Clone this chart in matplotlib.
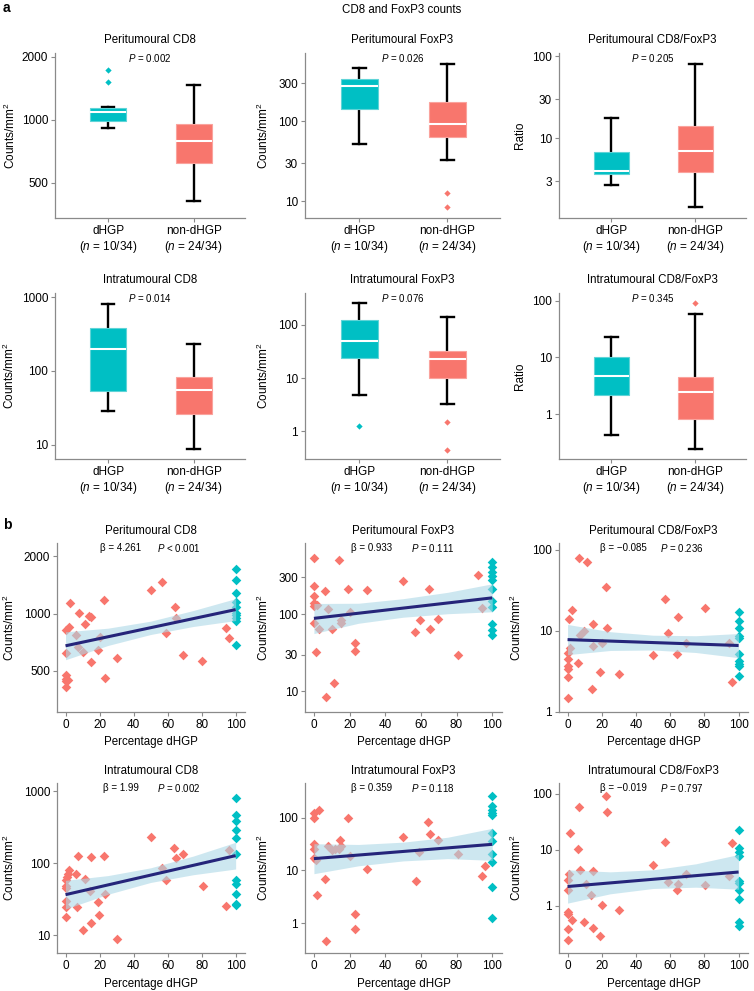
import numpy as np
import matplotlib
matplotlib.use("Agg")
import matplotlib.pyplot as plt
from matplotlib.ticker import FixedLocator, FixedFormatter, NullLocator

plt.rcParams["font.family"] = ["Liberation Sans", "DejaVu Sans"]
plt.rcParams["mathtext.fontset"] = "custom"
plt.rcParams["mathtext.rm"] = "Liberation Sans"
plt.rcParams["mathtext.it"] = "Liberation Sans:italic"
plt.rcParams["mathtext.bf"] = "Liberation Sans:bold"

# ---------------- data: panel a (box statistics: low whisker, Q1, median, Q3, high whisker)
groups = ["dHGP", "non-dHGP"]
group_n = ["10/34", "24/34"]

peri_cd8_dhgp_box = [919, 985, 1096, 1141, 1153]
peri_cd8_non_box = [409, 622, 794, 957, 1474]
peri_cd8_dhgp_out = [1738, 1517]
peri_cd8_non_out = []

peri_foxp3_dhgp_box = [52, 145, 277, 338, 464]
peri_foxp3_non_box = [33, 64, 94, 173, 530]
peri_foxp3_dhgp_out = []
peri_foxp3_non_out = [12.7, 8.4]

peri_ratio_dhgp_box = [2.71, 3.72, 4.01, 6.89, 17.5]
peri_ratio_non_box = [1.45, 3.9, 7.02, 14.25, 80.7]
peri_ratio_dhgp_out = []
peri_ratio_non_out = []

intra_cd8_dhgp_box = [28.4, 54, 198, 378, 804]
intra_cd8_non_box = [8.8, 25.9, 54.7, 82, 232]
intra_cd8_dhgp_out = []
intra_cd8_non_out = []

intra_foxp3_dhgp_box = [4.78, 23.8, 50.6, 124, 260]
intra_foxp3_non_box = [3.23, 9.86, 23.2, 32.8, 143.6]
intra_foxp3_dhgp_out = [1.24]
intra_foxp3_non_out = [1.46, 0.445]

intra_ratio_dhgp_box = [0.432, 2.13, 4.75, 10.3, 23.2]
intra_ratio_non_box = [0.238, 0.827, 2.48, 4.55, 59]
intra_ratio_dhgp_out = []
intra_ratio_non_out = [89.7]

p_values_a = ["0.002", "0.026", "0.205", "0.014", "0.076", "0.345"]

# ---------------- data: panel b (scatter; non-dHGP x = percentage dHGP, dHGP at 100 %)
peri_cd8_non_x = [2.5, 7.8, 14, 15, 11.3, 0, 2, 6.4, 7.2, 10.3, 0.4, 19.3, 20, 15, 30, 22.6, 23.4,
                  0, 0.5, 1.5, 0, 0, 50, 57, 64.3, 65, 59, 69.2, 80.3, 94.5, 96]
peri_cd8_non_y = [1142, 1008, 975, 955, 879, 815, 850, 770, 669, 630, 620, 640, 755, 558, 586, 1184, 460,
                  475, 455, 450, 440, 410, 1335, 1465, 1083, 949, 786, 603, 563, 838, 746]
peri_cd8_dhgp_y = [1720, 1507, 1288, 1151, 1084, 1012, 980, 953, 915, 683]

peri_foxp3_non_x = [0, 14.2, 0, 6.4, 0, 19.2, 30, 50.2, 64.3, 92, 0, 2, 0, 7.7, 20, 0, 2.8, 10, 15, 15,
                    1, 23.2, 22.8, 11.5, 7, 56.8, 59.4, 65.3, 69.6, 80.8, 94.2]
peri_foxp3_non_y = [531, 506, 229, 198, 170, 212, 206, 266, 212, 320, 137, 132, 127, 115, 107, 77, 63.5,
                    63.5, 85, 77, 32.7, 42.8, 33.7, 12.7, 8.5, 59, 85, 65, 86, 29.6, 119.5]
peri_foxp3_dhgp_y = [472, 407, 351, 308, 274, 210, 148, 124, 75, 63, 53]

peri_ratio_non_x = [6.6, 11.2, 22.5, 2.5, 0.8, 15.1, 23, 9.8, 7.4, 1.7, 15, 20, 0, 0, 6.2, 0, 0, 0,
                    18.7, 29.9, 14.2, 0, 56.7, 80.5, 64.8, 59, 49.9, 64.1, 69.2, 94.1, 96]
peri_ratio_non_y = [79.6, 69.6, 35.1, 18.2, 14.2, 12.3, 11, 10, 8.8, 6.2, 6.6, 7.1, 5.3, 4.5, 4.0, 3.7,
                    3.4, 2.7, 3.07, 2.9, 1.93, 1.49, 24.9, 19.3, 14.9, 9.3, 5.1, 5.14, 7.0, 7.1, 2.33]
peri_ratio_dhgp_y = [17.2, 13.2, 10.9, 8.67, 8.27, 5.14, 4.24, 3.94, 3.65, 2.77]

intra_cd8_non_x = [50, 63.9, 65.2, 69.3, 7.6, 14.8, 22.5, 96.3, 56.8, 59.2, 80.7, 2.3, 1.6, 6.4, 0.8, 0,
                   0, 0, 11.3, 14.5, 23.4, 0, 0, 6.6, 18.9, 19.7, 0, 14.8, 10, 30, 94.3]
intra_cd8_non_y = [232, 161, 119, 135, 125, 121, 128, 155, 86, 59, 49, 82, 72, 70, 64, 58, 49, 46, 61,
                   41, 37, 30, 25, 25, 29, 19, 18, 15, 12, 8.8, 25.5]
intra_cd8_dhgp_y = [808, 474, 383, 293, 222, 136, 58, 52, 38, 27, 26]

intra_foxp3_non_x = [2.8, 0, 0, 19.2, 64.2, 65.3, 50.2, 69.6, 14.9, 0, 0, 7.7, 10, 11.7, 14, 15.3, 0, 1,
                     20, 59.2, 80.8, 30, 6.4, 57, 1.9, 96, 94.2, 22.8, 23.2, 7]
intra_foxp3_non_y = [142, 123, 98.7, 98.7, 83, 49, 43, 37, 37, 31.6, 25.4, 28.6, 24, 25.4, 25.4, 28.6,
                     17, 16, 18.4, 22.6, 20.7, 10.7, 6.95, 6.4, 3.4, 11.9, 7.7, 1.48, 0.78, 0.46]
intra_foxp3_dhgp_y = [254, 169, 142, 123, 111, 51, 36, 20.4, 14.4, 4.9, 1.26]

intra_ratio_non_x = [22.3, 6.6, 23, 1.5, 56.7, 96, 6.2, 49.9, 7.4, 0.8, 15.1, 0, 11, 69.2, 59, 64.8,
                     64.1, 80.5, 94.1, 0, 14, 20, 29.9, 0, 0, 2.5, 9.8, 0, 15, 18.7, 0]
intra_ratio_non_y = [90, 58, 47, 20.4, 13.9, 13, 10.3, 5.4, 4.4, 3.7, 4.15, 2.9, 2.4, 3.66, 2.6, 2.4,
                     1.9, 2.36, 3.33, 1.87, 1.52, 1.03, 0.82, 0.78, 0.72, 0.56, 0.51, 0.38, 0.4, 0.29, 0.24]
intra_ratio_dhgp_y = [22.8, 10.6, 8.96, 7.8, 2.82, 2.53, 1.92, 1.31, 0.52, 0.435]

# regression lines (at 0 % and 100 %) and confidence band (at fit_x)
line_x = [0, 100]
fit_x = [0, 25, 50, 75, 100]
peri_cd8_line = [677, 1049]
peri_cd8_lo = [572, 680, 776, 855, 919]
peri_cd8_hi = [802, 838, 912, 1037, 1198]
peri_foxp3_line = [88, 162]
peri_foxp3_lo = [56, 76, 91, 101, 107]
peri_foxp3_hi = [137, 138, 158, 191, 246]
peri_ratio_line = [7.8, 6.6]
peri_ratio_lo = [5.09, 5.73, 5.81, 5.41, 4.67]
peri_ratio_hi = [12.0, 9.76, 8.84, 8.71, 9.27]
intra_cd8_line = [36.7, 128]
intra_cd8_lo = [23.2, 37.2, 54.2, 69.4, 83.4]
intra_cd8_hi = [58, 67.6, 86.6, 126, 196]
intra_foxp3_line = [16.7, 31.2]
intra_foxp3_lo = [8.64, 12.2, 15.1, 16.7, 15.5]
intra_foxp3_hi = [32, 31, 34.3, 42.5, 62.7]
intra_ratio_line = [2.2, 4.0]
intra_ratio_lo = [1.11, 1.63, 2.03, 2.14, 1.97]
intra_ratio_hi = [4.38, 4.03, 4.38, 5.61, 8.25]

betas_b = ["4.261", "0.933", "\u22120.085", "1.99", "0.359", "\u22120.019"]
p_values_b = ["< 0.001", "= 0.111", "= 0.236", "= 0.002", "= 0.118", "= 0.797"]

# ---------------- style
TEAL = "#00BFC4"
SALMON = "#F8766D"
TEAL_EDGE = "#5FD4D7"
SALMON_EDGE = "#FAA39D"
NAVY = "#25257A"
BAND = "#ADD8E6"
SPINE = "#8a8a8a"

W, H = 754, 991
fig = plt.figure(figsize=(W / 100, H / 100), dpi=100)


def add_ax(l, t, r, b):
    return fig.add_axes([l / W, 1 - b / H, (r - l) / W, (b - t) / H])


def style(ax, ticks, ylim, ylabel, label_off):
    for s in ["top", "right"]:
        ax.spines[s].set_visible(False)
    for s in ["left", "bottom"]:
        ax.spines[s].set_color(SPINE)
        ax.spines[s].set_linewidth(0.9)
    ax.set_yscale("log")
    ax.set_ylim(ylim)
    ax.yaxis.set_major_locator(FixedLocator(ticks))
    ax.yaxis.set_major_formatter(FixedFormatter([f"{t:g}" for t in ticks]))
    ax.yaxis.set_minor_locator(NullLocator())
    ax.tick_params(axis="both", direction="out", length=3, width=0.8, color=SPINE,
                   labelsize=8.5, pad=2)
    ax.set_ylabel(ylabel, fontsize=8.5)
    wpx = ax.get_position().width * W
    ax.yaxis.set_label_coords(-label_off / wpx, 0.5)


def title(ax, text, off):
    ax.annotate(text, xy=(0.5, 1), xycoords="axes fraction", xytext=(0, off * 0.72),
                textcoords="offset points", ha="center", va="center", fontsize=8.3)


def box_panel(ax, name, pval, dbox, nbox, dout, nout, ylim, ticks, ylabel, label_off):
    stats = []
    for b, o in [(dbox, dout), (nbox, nout)]:
        stats.append(dict(whislo=b[0], q1=b[1], med=b[2], q3=b[3], whishi=b[4], fliers=o, label=""))
    bp = ax.bxp(stats, positions=[0, 1], widths=0.42, capwidths=0.15, patch_artist=True,
                showfliers=True,
                whiskerprops=dict(color="black", linewidth=1.7),
                capprops=dict(color="black", linewidth=1.7),
                medianprops=dict(color="white", linewidth=1.5),
                flierprops=dict(marker="D", markersize=3.2, markeredgewidth=0))
    for i, (fc, ec) in enumerate([(TEAL, TEAL_EDGE), (SALMON, SALMON_EDGE)]):
        bp["boxes"][i].set_facecolor(fc)
        bp["boxes"][i].set_edgecolor(ec)
        bp["boxes"][i].set_linewidth(0.8)
        bp["boxes"][i].set_zorder(3)
        bp["medians"][i].set_zorder(4)
        bp["fliers"][i].set_markerfacecolor(fc)
    for w in bp["whiskers"] + bp["caps"]:
        w.set_zorder(2)
    ax.set_xlim(-0.62, 1.6)
    ax.set_xticks([0, 1])
    ax.set_xticklabels([f"{g}\n($\\it{{n}}$ = {n})" for g, n in zip(groups, group_n)])
    style(ax, ticks, ylim, ylabel, label_off)
    ax.text(0.5, 0.972, f"$\\it{{P}}$ = {pval}", transform=ax.transAxes, ha="center",
            va="center", fontsize=7)
    title(ax, name, 13)


def scatter_panel(ax, name, beta, pval, nx, ny, dy, line, lo, hi, ylim, ticks, label_off):
    ax.scatter(nx, ny, marker="D", s=24, color=SALMON, linewidths=0, zorder=2)
    ax.scatter(np.full(len(dy), 100.0), dy, marker="D", s=24, color=TEAL, linewidths=0, zorder=2)
    ax.fill_between(fit_x, lo, hi, color=BAND, alpha=0.6, linewidth=0, zorder=3)
    ax.plot(line_x, line, color=NAVY, linewidth=2.2, zorder=4, solid_capstyle="butt")
    ax.set_xlim(-5, 105.5)
    ax.set_xticks([0, 20, 40, 60, 80, 100])
    style(ax, ticks, ylim, "Counts/mm$^2$", label_off)
    ax.set_xlabel("Percentage dHGP", fontsize=8.3, labelpad=4)
    ax.text(0.34, 0.97, f"\u03b2 = {beta}", transform=ax.transAxes, ha="center", va="center",
            fontsize=7)
    ax.text(0.65, 0.97, f"$\\it{{P}}$ {pval}", transform=ax.transAxes, ha="center", va="center",
            fontsize=7)
    title(ax, name, 12)


cols_a = [(55, 245), (305, 500), (559, 746)]
cols_b = [(57, 245), (305, 502), (559, 748)]
rows_a = [(53, 218), (293, 459)]
rows_b = [(543, 712), (783, 953)]

CNT = "Counts/mm$^2$"
# panel a
box_panel(add_ax(cols_a[0][0], rows_a[0][0], cols_a[0][1], rows_a[0][1]), "Peritumoural CD8",
          p_values_a[0], peri_cd8_dhgp_box, peri_cd8_non_box, peri_cd8_dhgp_out, peri_cd8_non_out,
          (339, 2089), [500, 1000, 2000], CNT, 37)
box_panel(add_ax(cols_a[1][0], rows_a[0][0], cols_a[1][1], rows_a[0][1]), "Peritumoural FoxP3",
          p_values_a[1], peri_foxp3_dhgp_box, peri_foxp3_non_box, peri_foxp3_dhgp_out,
          peri_foxp3_non_out, (6.13, 721), [10, 30, 100, 300], CNT, 34)
box_panel(add_ax(cols_a[2][0], rows_a[0][0], cols_a[2][1], rows_a[0][1]), "Peritumoural CD8/FoxP3",
          p_values_a[2], peri_ratio_dhgp_box, peri_ratio_non_box, peri_ratio_dhgp_out,
          peri_ratio_non_out, (1.07, 110), [3, 10, 30, 100], "Ratio", 33)
box_panel(add_ax(cols_a[0][0], rows_a[1][0], cols_a[0][1], rows_a[1][1]), "Intratumoural CD8",
          p_values_a[3], intra_cd8_dhgp_box, intra_cd8_non_box, intra_cd8_dhgp_out,
          intra_cd8_non_out, (6.4, 1133), [10, 100, 1000], CNT, 38)
box_panel(add_ax(cols_a[1][0], rows_a[1][0], cols_a[1][1], rows_a[1][1]), "Intratumoural FoxP3",
          p_values_a[4], intra_foxp3_dhgp_box, intra_foxp3_non_box, intra_foxp3_dhgp_out,
          intra_foxp3_non_out, (0.297, 401), [1, 10, 100], CNT, 34)
box_panel(add_ax(cols_a[2][0], rows_a[1][0], cols_a[2][1], rows_a[1][1]), "Intratumoural CD8/FoxP3",
          p_values_a[5], intra_ratio_dhgp_box, intra_ratio_non_box, intra_ratio_dhgp_out,
          intra_ratio_non_out, (0.161, 137), [1, 10, 100], "Ratio", 33)

# panel b
scatter_panel(add_ax(cols_b[0][0], rows_b[0][0], cols_b[0][1], rows_b[0][1]), "Peritumoural CD8",
              betas_b[0], p_values_b[0], peri_cd8_non_x, peri_cd8_non_y, peri_cd8_dhgp_y,
              peri_cd8_line, peri_cd8_lo, peri_cd8_hi, (304, 2348), [500, 1000, 2000], 40)
scatter_panel(add_ax(cols_b[1][0], rows_b[0][0], cols_b[1][1], rows_b[0][1]), "Peritumoural FoxP3",
              betas_b[1], p_values_b[1], peri_foxp3_non_x, peri_foxp3_non_y, peri_foxp3_dhgp_y,
              peri_foxp3_line, peri_foxp3_lo, peri_foxp3_hi, (5.42, 829), [10, 30, 100, 300], 34)
scatter_panel(add_ax(cols_b[2][0], rows_b[0][0], cols_b[2][1], rows_b[0][1]),
              "Peritumoural CD8/FoxP3", betas_b[2], p_values_b[2], peri_ratio_non_x,
              peri_ratio_non_y, peri_ratio_dhgp_y, peri_ratio_line, peri_ratio_lo, peri_ratio_hi,
              (1, 121), [1, 10, 100], 35)
scatter_panel(add_ax(cols_b[0][0], rows_b[1][0], cols_b[0][1], rows_b[1][1]), "Intratumoural CD8",
              betas_b[3], p_values_b[3], intra_cd8_non_x, intra_cd8_non_y, intra_cd8_dhgp_y,
              intra_cd8_line, intra_cd8_lo, intra_cd8_hi, (5.68, 1306), [10, 100, 1000], 40)
scatter_panel(add_ax(cols_b[1][0], rows_b[1][0], cols_b[1][1], rows_b[1][1]), "Intratumoural FoxP3",
              betas_b[4], p_values_b[4], intra_foxp3_non_x, intra_foxp3_non_y, intra_foxp3_dhgp_y,
              intra_foxp3_line, intra_foxp3_lo, intra_foxp3_hi, (0.27, 455), [1, 10, 100], 34)
scatter_panel(add_ax(cols_b[2][0], rows_b[1][0], cols_b[2][1], rows_b[1][1]),
              "Intratumoural CD8/FoxP3", betas_b[5], p_values_b[5], intra_ratio_non_x,
              intra_ratio_non_y, intra_ratio_dhgp_y, intra_ratio_line, intra_ratio_lo,
              intra_ratio_hi, (0.142, 157), [1, 10, 100], 35)

fig.text(3 / W, 1 - 8 / H, "a", fontsize=10, fontweight="bold", ha="left", va="center")
fig.text(3 / W, 1 - 525 / H, "b", fontsize=10, fontweight="bold", ha="left", va="center")
fig.text(402 / W, 1 - 10 / H, "CD8 and FoxP3 counts", fontsize=8.3, ha="center", va="center")

fig.savefig("out.png", dpi=100)
